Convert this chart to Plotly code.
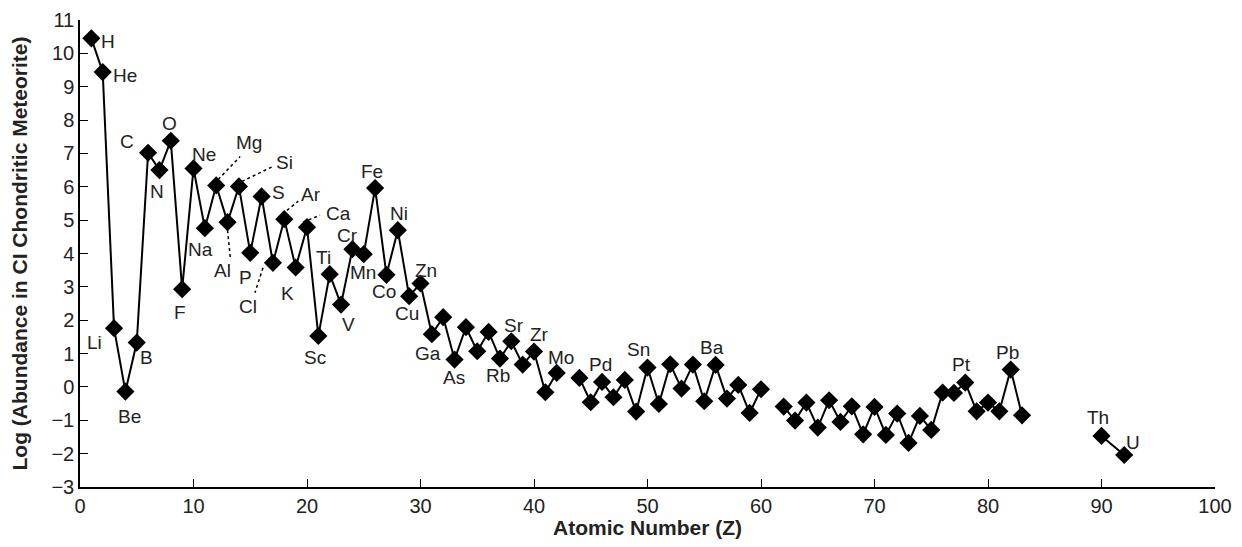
import plotly.graph_objects as go

# Atomic numbers (None = gap in the line)
Z = [1, 2, 3, 4, 5, 6, 7, 8, 9, 10, 11, 12, 13, 14, 15, 16, 17, 18, 19, 20,
     21, 22, 23, 24, 25, 26, 27, 28, 29, 30, 31, 32, 33, 34, 35, 36, 37, 38, 39, 40,
     41, 42, None, 44, 45, 46, 47, 48, 49, 50, 51, 52, 53, 54, 55, 56, 57, 58, 59, 60,
     None, 62, 63, 64, 65, 66, 67, 68, 69, 70, 71, 72, 73, 74, 75, 76, 77, 78, 79, 80,
     81, 82, 83, None, 90, 92]
logA = [10.45, 9.44, 1.76, -0.14, 1.33, 7.02, 6.50, 7.38, 2.93, 6.55, 4.76, 6.04, 4.94, 6.01, 4.02, 5.71, 3.72, 5.03, 3.58, 4.79,
        1.53, 3.38, 2.47, 4.13, 3.98, 5.96, 3.36, 4.70, 2.72, 3.10, 1.58, 2.09, 0.82, 1.79, 1.07, 1.65, 0.85, 1.37, 0.67, 1.06,
        -0.16, 0.42, None, 0.27, -0.46, 0.15, -0.31, 0.21, -0.74, 0.58, -0.51, 0.68, -0.05, 0.67, -0.43, 0.66, -0.35, 0.06, -0.78, -0.07,
        None, -0.59, -1.01, -0.47, -1.22, -0.40, -1.05, -0.58, -1.42, -0.60, -1.44, -0.80, -1.68, -0.87, -1.29, -0.17, -0.18, 0.13, -0.73, -0.47,
        -0.73, 0.52, -0.85, None, -1.47, -2.04]

# Labelled elements: symbol, Z, label offset in px (dx right, dy down)
labels = [("H", 1, 17, 3), ("He", 2, 22, 3), ("Li", 3, -20, 14), ("Be", 4, 4, 25),
          ("B", 5, 10, 15), ("C", 6, -21, -11), ("N", 7, -2, 21), ("O", 8, -1, -17),
          ("F", 9, -2, 23), ("Ne", 10, 10, -14), ("Na", 11, -4, 21), ("Mg", 12, 33, -43),
          ("Al", 13, -5, 48), ("Si", 14, 46, -24), ("P", 15, -5, 25), ("S", 16, 17, -4),
          ("Cl", 17, -25, 44), ("Ar", 18, 27, -25), ("K", 19, -8, 26), ("Ca", 20, 31, -14),
          ("Sc", 21, -3, 22), ("Ti", 22, -6, -17), ("V", 23, 7, 20), ("Cr", 24, -5, -14),
          ("Mn", 25, -1, 18), ("Fe", 26, -3, -17), ("Co", 27, -2, 17), ("Ni", 28, 1, -17),
          ("Cu", 29, -2, 17), ("Zn", 30, 5, -13), ("Ga", 31, -4, 19), ("As", 33, -1, 18),
          ("Rb", 37, -2, 17), ("Sr", 38, 3, -16), ("Zr", 40, 5, -17), ("Mo", 42, 4, -15),
          ("Pd", 46, -2, -17), ("Sn", 50, -9, -18), ("Ba", 56, -4, -17), ("Pt", 78, -4, -18),
          ("Pb", 82, -3, -17), ("Th", 90, -4, -18), ("U", 92, 9, -12)]

# Dotted leader lines: Z, start offset (px), end offset (px)
leaders = [(12, 2, -6, 24, -29), (13, 0, 8, 3, 38), (14, 3, -5, 34, -20),
           (17, -10, 5, -18, 30), (18, -2, -5, 14, -18), (20, -4, -5, 13, -12)]

val = {z: v for z, v in zip(Z, logA) if z is not None}

FAM = "Liberation Sans, Arial, Helvetica, sans-serif"
TXT = "#222"

fig = go.Figure()
fig.add_trace(go.Scatter(
    x=Z, y=logA, mode="lines+markers",
    line=dict(color="black", width=2),
    marker=dict(symbol="diamond", size=14, color="black"),
    connectgaps=False, showlegend=False, hoverinfo="skip"))

for sym, z, dx, dy in labels:
    fig.add_annotation(x=z, y=val[z], text=sym, showarrow=False,
                       xshift=dx, yshift=-dy, font=dict(family=FAM, size=19, color=TXT))

for z, x0, y0, x1, y1 in leaders:
    fig.add_shape(type="line", xref="x", yref="y",
                  xsizemode="pixel", ysizemode="pixel",
                  xanchor=z, yanchor=val[z],
                  x0=x0, x1=x1, y0=-y0, y1=-y1,
                  line=dict(color="black", width=1.5, dash="dot"))

axis_common = dict(showline=True, linecolor="black", linewidth=1.5,
                   ticks="inside", ticklen=8, tickwidth=1.2, tickcolor="black",
                   showgrid=False, zeroline=False,
                   tickfont=dict(family=FAM, size=20, color=TXT))

fig.update_xaxes(range=[0, 100], tickmode="linear", tick0=0, dtick=10,
                 title=dict(text="<b>Atomic Number (Z)</b>", standoff=8,
                            font=dict(family=FAM, size=21, color=TXT)),
                 **axis_common)
fig.update_yaxes(range=[-3, 11],
                 tickvals=list(range(-3, 12)),
                 ticktext=[("\u2212" + str(-v)) if v < 0 else str(v) for v in range(-3, 12)],
                 title=dict(text="<b>Log (Abundance in CI Chondritic Meteorite)</b>", standoff=19,
                            font=dict(family=FAM, size=21, color=TXT)),
                 **axis_common)

fig.update_layout(width=1226, height=531, plot_bgcolor="white", paper_bgcolor="white",
                  margin=dict(l=72, r=19, t=12, b=52, autoexpand=False))

fig.write_html("out.html")
